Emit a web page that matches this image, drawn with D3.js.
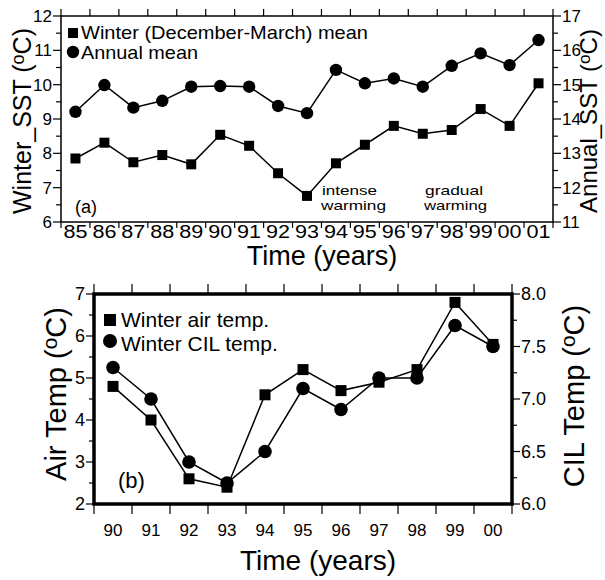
<!DOCTYPE html>
<html>
<head>
<meta charset="utf-8">
<script src="https://cdn.jsdelivr.net/npm/d3@7"></script>
<style>
  body { margin: 0; background: #fff; }
  svg { font-family: "Liberation Sans", Arial, sans-serif; }
</style>
</head>
<body>
<div id="chart"></div>
<script>
// data, panel (a)
const YEARS_A = ['85','86','87','88','89','90','91','92','93','94','95','96','97','98','99','00','01'];
const WINTER_SST = [7.85, 8.31, 7.74, 7.95, 7.68, 8.54, 8.22, 7.42, 6.76, 7.71, 8.25, 8.80, 8.57, 8.68, 9.29, 8.80, 10.04];
const ANNUAL_SST = [14.21, 14.99, 14.33, 14.53, 14.94, 14.96, 14.94, 14.38, 14.17, 15.43, 15.04, 15.18, 14.94, 15.55, 15.91, 15.57, 16.30];

// data, panel (b)
const YEARS_B = ['90','91','92','93','94','95','96','97','98','99','00'];
const AIR_TEMP = [4.8, 4.0, 2.6, 2.4, 4.6, 5.2, 4.7, 4.9, 5.2, 6.8, 5.8];
const CIL_TEMP = [7.30, 7.0, 6.4, 6.2, 6.5, 7.1, 6.9, 7.2, 7.2, 7.7, 7.5];

const W = 605, H = 580;

const svg = d3.select('#chart').append('svg')
    .attr('width', W)
    .attr('height', H);

// draws a tick set on a vertical axis, major + minor
function yTicks(g, scale, x, dir, majors, minors, fmt, fs) {
    majors.forEach(v => {
        g.append('line')
            .attr('x1', x).attr('x2', x + dir * 8)
            .attr('y1', scale(v)).attr('y2', scale(v))
            .attr('stroke', '#000').attr('stroke-width', 1.2);
        g.append('text')
            .attr('x', x + dir * 9)
            .attr('y', scale(v))
            .attr('dy', '0.36em')
            .attr('text-anchor', dir < 0 ? 'end' : 'start')
            .attr('font-size', fs)
            .text(fmt(v));
    });
    minors.forEach(v => {
        g.append('line')
            .attr('x1', x).attr('x2', x + dir * 5)
            .attr('y1', scale(v)).attr('y2', scale(v))
            .attr('stroke', '#000').attr('stroke-width', 1.2);
    });
}

function degTitle(g, label, x, y, fs) {
    const t = g.append('text')
        .attr('transform', 'translate(' + x + ',' + y + ') rotate(-90)')
        .attr('text-anchor', 'middle')
        .attr('font-size', fs);
    t.append('tspan').text(label + ' (');
    t.append('tspan').attr('font-size', fs * 0.72).attr('dy', -fs * 0.3).text('o');
    t.append('tspan').attr('dy', fs * 0.3).text('C)');
}

function square(g, cx, cy, s) {
    g.append('rect')
        .attr('x', cx - s / 2).attr('y', cy - s / 2)
        .attr('width', s).attr('height', s)
        .attr('fill', '#000');
}

// ---------------- panel (a) ----------------
const A = {left: 61, right: 553, top: 16, bottom: 222};
const ga = svg.append('g');

const xA = d3.scaleBand().domain(YEARS_A).range([A.left, A.right]).padding(0);
const yA = d3.scaleLinear().domain([6, 12]).range([A.bottom, A.top]);
const yA2 = d3.scaleLinear().domain([11, 17]).range([A.bottom, A.top]);
const cxA = d => xA(d) + xA.bandwidth() / 2;

ga.append('rect')
    .attr('x', A.left).attr('y', A.top)
    .attr('width', A.right - A.left).attr('height', A.bottom - A.top)
    .attr('fill', 'none').attr('stroke', '#000').attr('stroke-width', 1.5);

// x ticks at band edges
const edgesA = YEARS_A.map(d => xA(d)).concat([xA.range()[1]]);
edgesA.forEach(x => {
    ga.append('line').attr('x1', x).attr('x2', x)
        .attr('y1', A.top).attr('y2', A.top - 7)
        .attr('stroke', '#000').attr('stroke-width', 1.2);
    ga.append('line').attr('x1', x).attr('x2', x)
        .attr('y1', A.bottom).attr('y2', A.bottom + 6)
        .attr('stroke', '#000').attr('stroke-width', 1.2);
});
YEARS_A.forEach(d => {
    ga.append('text')
        .attr('x', cxA(d)).attr('y', A.bottom + 16)
        .attr('text-anchor', 'middle')
        .attr('font-size', 18)
        .attr('textLength', 24).attr('lengthAdjust', 'spacingAndGlyphs')
        .text(d);
});

yTicks(ga, yA, A.left, -1, d3.range(6, 12.1, 1), d3.range(6.5, 12, 1), d3.format('d'), 17);
yTicks(ga, yA2, A.right, 1, d3.range(11, 17.1, 1), d3.range(11.5, 17, 1), d3.format('d'), 17);

degTitle(ga, 'Winter_SST', 31, (A.top + A.bottom) / 2 + 2, 25);
degTitle(ga, 'Annual_SST', 597, (A.top + A.bottom) / 2 + 2, 24);

ga.append('text')
    .attr('x', 322).attr('y', 265)
    .attr('text-anchor', 'middle')
    .attr('font-size', 27)
    .text('Time (years)');

// lines + markers
const lineA1 = d3.line().x((v, i) => cxA(YEARS_A[i])).y(v => yA(v));
const lineA2 = d3.line().x((v, i) => cxA(YEARS_A[i])).y(v => yA2(v));
ga.append('path').attr('d', lineA1(WINTER_SST)).attr('fill', 'none').attr('stroke', '#000').attr('stroke-width', 1.5);
ga.append('path').attr('d', lineA2(ANNUAL_SST)).attr('fill', 'none').attr('stroke', '#000').attr('stroke-width', 1.5);
WINTER_SST.forEach((v, i) => square(ga, cxA(YEARS_A[i]), yA(v), 10));
ga.selectAll('circle.ann')
    .data(ANNUAL_SST)
    .enter()
    .append('circle')
    .attr('class', 'ann')
    .attr('cx', (v, i) => cxA(YEARS_A[i]))
    .attr('cy', v => yA2(v))
    .attr('r', 6.2)
    .attr('fill', '#000');

// legend (a)
square(ga, 73, 33, 10);
ga.append('text').attr('x', 81).attr('y', 39).attr('font-size', 17.8)
    .attr('textLength', 287).attr('lengthAdjust', 'spacingAndGlyphs')
    .text('Winter (December-March) mean');
ga.append('circle').attr('cx', 73).attr('cy', 52).attr('r', 6.2).attr('fill', '#000');
ga.append('text').attr('x', 81).attr('y', 59.2).attr('font-size', 17.8)
    .attr('textLength', 117).attr('lengthAdjust', 'spacingAndGlyphs')
    .text('Annual mean');

ga.append('text').attr('x', 75).attr('y', 213).attr('font-size', 18).text('(a)');
// annotations: [line1, line2, x, width1, width2]
[['intense', 'warming', 321, 55, 65], ['gradual', 'warming', 424, 58, 63]].forEach(t => {
    ga.append('text').attr('x', t[2] + 1).attr('y', 195).attr('font-size', 13.4)
        .attr('textLength', t[3]).attr('lengthAdjust', 'spacingAndGlyphs').text(t[0]);
    ga.append('text').attr('x', t[2]).attr('y', 210).attr('font-size', 13.4)
        .attr('textLength', t[4]).attr('lengthAdjust', 'spacingAndGlyphs').text(t[1]);
});

// ---------------- panel (b) ----------------
const B = {left: 94, right: 512, top: 294, bottom: 504};
const gb = svg.append('g');

const xB = d3.scaleBand().domain(YEARS_B).range([B.left, B.right]).padding(0);
const yB = d3.scaleLinear().domain([2, 7]).range([B.bottom, B.top]);
const yB2 = d3.scaleLinear().domain([6, 8]).range([B.bottom, B.top]);
const cxB = d => xB(d) + xB.bandwidth() / 2;

const edgesB = YEARS_B.map(d => xB(d)).concat([xB.range()[1]]);
edgesB.forEach(x => {
    gb.append('line').attr('x1', x).attr('x2', x)
        .attr('y1', B.top).attr('y2', B.top - 10)
        .attr('stroke', '#000').attr('stroke-width', 1.2);
    gb.append('line').attr('x1', x).attr('x2', x)
        .attr('y1', B.bottom).attr('y2', B.bottom + 10)
        .attr('stroke', '#000').attr('stroke-width', 1.2);
});
YEARS_B.forEach(d => {
    gb.append('text')
        .attr('x', cxB(d)).attr('y', B.bottom + 32)
        .attr('text-anchor', 'middle')
        .attr('font-size', 17)
        .text(d);
});

yTicks(gb, yB, B.left, -1, d3.range(2, 7.1, 1), d3.range(2.5, 7, 1), d3.format('d'), 18);
yTicks(gb, yB2, B.right, 1, d3.range(6, 8.01, 0.5), d3.range(6.25, 8, 0.5), d3.format('.1f'), 18);

degTitle(gb, 'Air Temp', 66, 394, 29);
degTitle(gb, 'CIL Temp', 584, 396, 29);

gb.append('text')
    .attr('x', 318).attr('y', 570)
    .attr('text-anchor', 'middle')
    .attr('font-size', 28)
    .text('Time (years)');

const lineB1 = d3.line().x((v, i) => cxB(YEARS_B[i])).y(v => yB(v));
const lineB2 = d3.line().x((v, i) => cxB(YEARS_B[i])).y(v => yB2(v));
gb.append('path').attr('d', lineB1(AIR_TEMP)).attr('fill', 'none').attr('stroke', '#000').attr('stroke-width', 1.5);
gb.append('path').attr('d', lineB2(CIL_TEMP)).attr('fill', 'none').attr('stroke', '#000').attr('stroke-width', 1.5);
AIR_TEMP.forEach((v, i) => square(gb, cxB(YEARS_B[i]), yB(v), 11));
gb.selectAll('circle.cil')
    .data(CIL_TEMP)
    .enter()
    .append('circle')
    .attr('class', 'cil')
    .attr('cx', (v, i) => cxB(YEARS_B[i]))
    .attr('cy', v => yB2(v))
    .attr('r', 6.8)
    .attr('fill', '#000');

// frame on top of lines
gb.append('rect')
    .attr('x', B.left).attr('y', B.top)
    .attr('width', B.right - B.left).attr('height', B.bottom - B.top)
    .attr('fill', 'none').attr('stroke', '#000').attr('stroke-width', 3.5);

// legend (b)
square(gb, 110, 320, 12);
gb.append('text').attr('x', 121).attr('y', 327).attr('font-size', 21).text('Winter air temp.');
gb.append('circle').attr('cx', 110).attr('cy', 341).attr('r', 7).attr('fill', '#000');
gb.append('text').attr('x', 121).attr('y', 351).attr('font-size', 21).text('Winter CIL temp.');

gb.append('text').attr('x', 118).attr('y', 488).attr('font-size', 22).text('(b)');
</script>
</body>
</html>
